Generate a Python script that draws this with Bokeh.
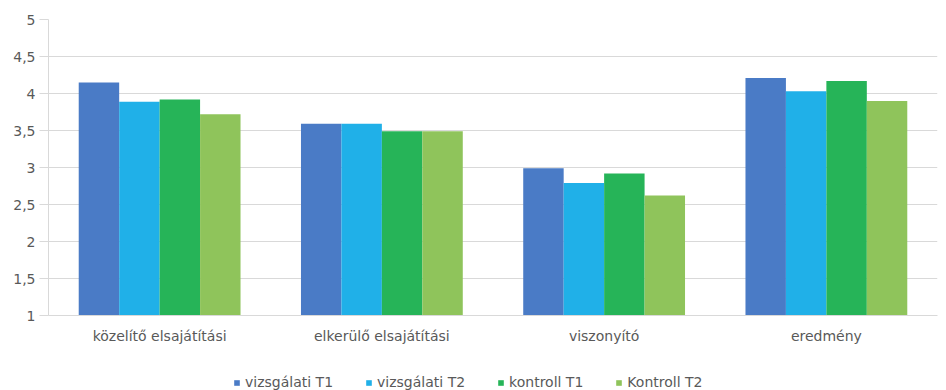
from bokeh.plotting import figure
from bokeh.layouts import column
from bokeh.models import ColumnDataSource, FactorRange, Range1d, FixedTicker, Legend, LegendItem
from bokeh.transform import dodge
from bokeh.embed import file_html
from bokeh.resources import INLINE

categories = ["közelítő elsajátítási", "elkerülő elsajátítási", "viszonyító", "eredmény"]
series_names = ["vizsgálati T1", "vizsgálati T2", "kontroll T1", "Kontroll T2"]
vizsgalati_t1 = [4.15, 3.59, 2.99, 4.21]
vizsgalati_t2 = [3.89, 3.59, 2.79, 4.03]
kontroll_t1 = [3.92, 3.49, 2.92, 4.17]
kontroll_t2 = [3.72, 3.49, 2.62, 3.90]
y_ticks = [1, 1.5, 2, 2.5, 3, 3.5, 4, 4.5, 5]
y_tick_labels = ["1", "1,5", "2", "2,5", "3", "3,5", "4", "4,5", "5"]

colors = ["#4a7bc6", "#20b0e8", "#26b458", "#8fc45b"]
FONT = "DejaVu Sans"
FONT_SIZE = "14px"
TEXT_COLOR = "#595959"
GRID_COLOR = "#d9d9d9"

data = dict(
    cat=categories,
    s0=vizsgalati_t1,
    s1=vizsgalati_t2,
    s2=kontroll_t1,
    s3=kontroll_t2,
)
source = ColumnDataSource(data)

p = figure(
    width=946, height=352,
    x_range=FactorRange(*categories, range_padding=0),
    y_range=Range1d(1, 5),
    output_backend="svg", toolbar_location=None,
    min_border_left=48, min_border_right=9, min_border_top=19, min_border_bottom=37,
    outline_line_color=None,
)

bar_w = 0.182
offsets = [-1.5 * bar_w, -0.5 * bar_w, 0.5 * bar_w, 1.5 * bar_w]
for i, off in enumerate(offsets):
    p.vbar(x=dodge("cat", off, range=p.x_range), top=f"s{i}", bottom=1, width=bar_w,
           source=source, fill_color=colors[i], line_color=None)

# y axis
p.yaxis.ticker = FixedTicker(ticks=y_ticks)
p.yaxis.major_label_overrides = {t: l for t, l in zip(y_ticks, y_tick_labels)}
p.yaxis.axis_line_color = GRID_COLOR
p.yaxis.major_tick_line_color = GRID_COLOR
p.yaxis.major_tick_out = 9
p.yaxis.major_tick_in = 0
p.yaxis.minor_tick_line_color = None
p.yaxis.major_label_standoff = 4
p.yaxis.major_label_text_font = FONT
p.yaxis.major_label_text_font_size = FONT_SIZE
p.yaxis.major_label_text_color = TEXT_COLOR

# x axis
p.xaxis.axis_line_color = GRID_COLOR
p.xaxis.major_tick_line_color = None
p.xaxis.minor_tick_line_color = None
p.xaxis.major_label_standoff = 6
p.xaxis.major_label_text_font = FONT
p.xaxis.major_label_text_font_size = FONT_SIZE
p.xaxis.major_label_text_color = TEXT_COLOR

p.xgrid.grid_line_color = None
p.ygrid.grid_line_color = GRID_COLOR
p.ygrid.ticker = FixedTicker(ticks=y_ticks)

# legend strip under the chart: same series, drawn below its visible y range
leg_fig = figure(
    width=946, height=38,
    x_range=FactorRange(*categories, range_padding=0),
    y_range=Range1d(10, 11),
    output_backend="svg", toolbar_location=None,
    min_border=0, outline_line_color=None,
)
leg_fig.axis.visible = False
leg_fig.grid.visible = False
leg_source = ColumnDataSource(data)
leg_renderers = []
for i, off in enumerate(offsets):
    r = leg_fig.vbar(x=dodge("cat", off, range=leg_fig.x_range), top=f"s{i}", bottom=1,
                     width=bar_w, source=leg_source, fill_color=colors[i], line_color=None)
    leg_renderers.append(r)

legend = Legend(
    items=[LegendItem(label=n, renderers=[r]) for n, r in zip(series_names, leg_renderers)],
    orientation="horizontal", location=(185, 0),
    glyph_width=7, glyph_height=7, label_standoff=5, spacing=32,
    label_text_font=FONT, label_text_font_size=FONT_SIZE, label_text_color=TEXT_COLOR,
    label_height=14, padding=2, margin=0,
    border_line_color=None, background_fill_alpha=0,
)
leg_fig.add_layout(legend, "center")

layout = column(p, leg_fig, spacing=0)
open("out.html", "w").write(file_html(layout, INLINE))
